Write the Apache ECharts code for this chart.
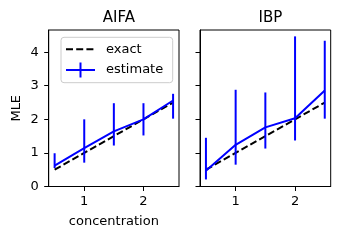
<!DOCTYPE html>
<html><head><meta charset="utf-8">
<script src="https://cdn.jsdelivr.net/npm/echarts@6/dist/echarts.min.js"></script>
<style>html,body{margin:0;padding:0;background:#fff}#c{width:340px;height:240px}</style>
</head><body><div id="c"></div>
<script>
const concentration = [0.5, 1.0, 1.5, 2.0, 2.5];
const exactValues = [0.5, 1.0, 1.5, 2.0, 2.5];
const aifaEstimate = [0.62, 1.14, 1.64, 2.0, 2.56];
const aifaLower = [0.55, 0.71, 1.22, 1.52, 2.02];
const aifaUpper = [0.99, 2.0, 2.48, 2.48, 2.76];
const ibpEstimate = [0.47, 1.24, 1.76, 2.03, 2.86];
const ibpLower = [0.21, 0.65, 1.13, 1.37, 2.02];
const ibpUpper = [1.45, 2.88, 2.8, 4.47, 4.34];
const panelTitles = ['AIFA', 'IBP'];
const xTicks = [1, 2];
const yTicks = [0, 1, 2, 3, 4];

const FONT = 'DejaVu Sans';
const BLUE = '#0000ff';
const chart = echarts.init(document.getElementById('c'), null, {renderer: 'canvas'});

function pairs(xs, ys) { return xs.map((x, i) => [x, ys[i]]); }
function triples(xs, lo, hi) { return xs.map((x, i) => [x, lo[i], hi[i]]); }

function errRender(params, api) {
  const x = api.value(0);
  const p1 = api.coord([x, api.value(1)]);
  const p2 = api.coord([x, api.value(2)]);
  return {type: 'line', shape: {x1: p1[0], y1: p1[1], x2: p2[0], y2: p2[1]},
    style: {stroke: BLUE, lineWidth: 2}};
}

const grids = [
  {left: 48.7, right: 161, top: 30, bottom: 53.5},
  {left: 200, right: 9.3, top: 30, bottom: 53.5}
];

const xAxes = grids.map((g, i) => ({
  type: 'value', gridIndex: i, min: 0.4, max: 2.6,
  splitLine: {show: false},
  axisLine: {show: true, onZero: false, lineStyle: {color: '#000', width: 1}},
  axisTick: {show: true, length: 4.5, customValues: xTicks, lineStyle: {color: '#000'}},
  axisLabel: {customValues: xTicks, color: '#000', fontFamily: FONT, fontSize: 13, margin: 9},
  name: i === 0 ? 'concentration' : '', nameLocation: 'middle', nameGap: 29,
  nameTextStyle: {color: '#000', fontFamily: FONT, fontSize: 13}
}));

const yAxes = grids.map((g, i) => ({
  type: 'value', gridIndex: i, min: 0, max: 4.66,
  splitLine: {show: false},
  axisLine: {show: true, onZero: false, lineStyle: {color: '#000', width: 1}},
  axisTick: {show: true, length: 4.5, customValues: yTicks, lineStyle: {color: '#000'}},
  axisLabel: {show: i === 0, customValues: yTicks, color: '#000', fontFamily: FONT, fontSize: 13, margin: 10},
  name: i === 0 ? 'MLE' : '', nameLocation: 'middle', nameGap: 26,
  nameTextStyle: {color: '#000', fontFamily: FONT, fontSize: 13}
}));

const panels = [
  {est: aifaEstimate, lo: aifaLower, hi: aifaUpper},
  {est: ibpEstimate, lo: ibpLower, hi: ibpUpper}
];

const series = [];
panels.forEach((p, i) => {
  series.push({type: 'line', xAxisIndex: i, yAxisIndex: i, data: pairs(concentration, exactValues),
    showSymbol: false, symbol: 'none', lineStyle: {color: '#000', width: 2, type: [7, 3.2]}, z: 2});
  series.push({type: 'custom', xAxisIndex: i, yAxisIndex: i, data: triples(concentration, p.lo, p.hi),
    renderItem: errRender, encode: {x: 0, y: [1, 2]}, z: 3});
  series.push({type: 'line', xAxisIndex: i, yAxisIndex: i, data: pairs(concentration, p.est),
    showSymbol: false, symbol: 'none', lineStyle: {color: BLUE, width: 2}, z: 4});
});

const option = {
  animation: false,
  backgroundColor: '#fff',
  title: panelTitles.map((t, i) => ({
    text: t, left: i === 0 ? 113.85 : 265.35, top: 6, textAlign: 'center',
    textStyle: {color: '#000', fontFamily: FONT, fontSize: 15, fontWeight: 'normal'}
  })),
  grid: grids.map(g => Object.assign({show: true, borderColor: '#000', borderWidth: 1, backgroundColor: 'transparent'}, g)),
  xAxis: xAxes,
  yAxis: yAxes,
  series: series,
  graphic: [
    {type: 'rect', shape: {x: 61, y: 37.3, width: 111.7, height: 45.4, r: 3},
      style: {fill: 'rgba(255,255,255,0.8)', stroke: '#cccccc', lineWidth: 1}, z: 10},
    {type: 'line', shape: {x1: 66, y1: 49.3, x2: 95, y2: 49.3},
      style: {stroke: '#000', lineWidth: 2, lineDash: [7, 3.2]}, z: 11},
    {type: 'text', x: 106, y: 49.3, style: {text: 'exact', fill: '#000', font: '13px "DejaVu Sans"', textVerticalAlign: 'middle'}, z: 11},
    {type: 'line', shape: {x1: 66, y1: 70, x2: 95, y2: 70}, style: {stroke: BLUE, lineWidth: 2}, z: 11},
    {type: 'line', shape: {x1: 80.5, y1: 62.5, x2: 80.5, y2: 77.5}, style: {stroke: BLUE, lineWidth: 2}, z: 11},
    {type: 'text', x: 106, y: 70, style: {text: 'estimate', fill: '#000', font: '13px "DejaVu Sans"', textVerticalAlign: 'middle'}, z: 11}
  ]
};
chart.setOption(option);
</script></body></html>
